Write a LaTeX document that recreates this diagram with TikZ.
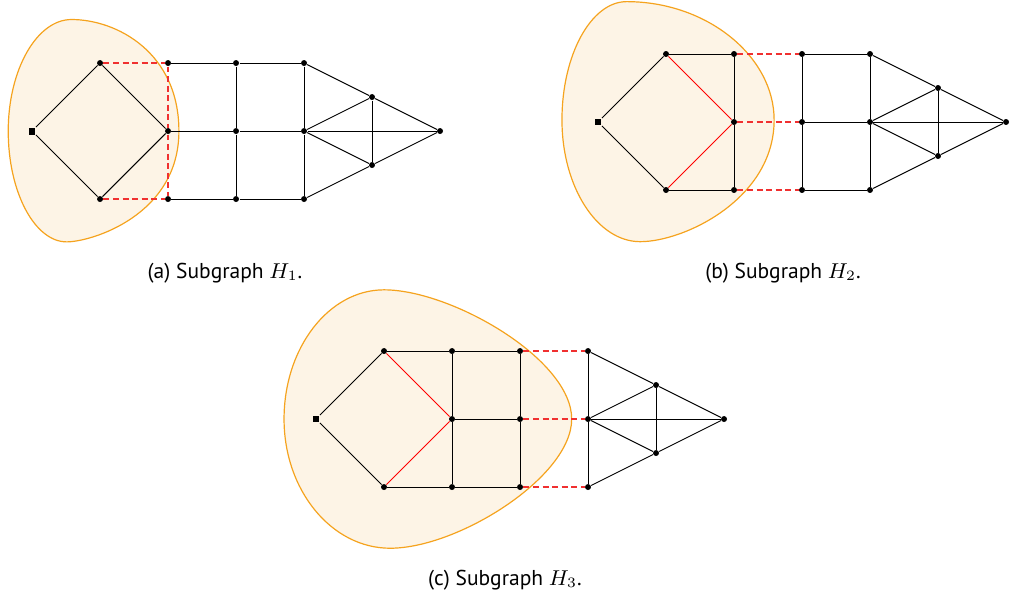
\documentclass[tikz,border=0pt]{standalone}
\usepackage{fontspec}
\setmainfont{PT Sans}
\usetikzlibrary{positioning}

\definecolor{regionline}{HTML}{F5A31E}
\definecolor{regionfill}{HTML}{FDF4E6}
\definecolor{cutred}{HTML}{F03030}

\tikzset{
  vtx/.style={circle, fill=black, inner sep=0pt, minimum size=2.5pt},
  root/.style={rectangle, fill=black, inner sep=0pt, minimum size=2.9pt},
  edge/.style={black},
  cut/.style={cutred, line width=0.5pt, dash pattern=on 2.5pt off 1.5pt},
  hot/.style={red},
  region/.style={draw=regionline, line width=0.5pt, fill=regionfill},
  caption/.style={font=\small, anchor=base}
}

% vertices of the graph, s at the origin
\newcommand{\graphnodes}{
  \node[root] (s) at (0,0) {};
  \node[vtx] (u) at (1,1) {};
  \node[vtx] (w) at (1,-1) {};
  \node[vtx] (p1) at (2,1) {};
  \node[vtx] (c) at (2,0) {};
  \node[vtx] (p3) at (2,-1) {};
  \node[vtx] (q1) at (3,1) {};
  \node[vtx] (q2) at (3,0) {};
  \node[vtx] (q3) at (3,-1) {};
  \node[vtx] (r1) at (4,1) {};
  \node[vtx] (r2) at (4,0) {};
  \node[vtx] (r3) at (4,-1) {};
  \node[vtx] (t1) at (5,0.5) {};
  \node[vtx] (t2) at (5,-0.5) {};
  \node[vtx] (z) at (6,0) {};
}

% edges that are black in every subgraph
\newcommand{\fixededges}{
  \foreach \a/\b in {s/u, s/w, q1/q2, q2/q3, r1/r2, r2/r3, r1/t1, r2/t1,
                     r2/t2, r3/t2, t1/t2, t1/z, t2/z, r2/z}
    \draw[edge] (\a) -- (\b);
}

\begin{document}
\begin{tikzpicture}
\useasboundingbox (0,0) rectangle (14.882,8.765);

% (a) subgraph H_1
\begin{scope}[shift={(0.471,6.838)}, name prefix=a-]
  \draw[region] (-0.35,0) .. controls (-0.35,0.9) and (0.07,1.64) .. (0.58,1.64)
    .. controls (1.25,1.64) and (2.16,1.15) .. (2.16,0)
    .. controls (2.16,-1.24) and (0.87,-1.63) .. (0.51,-1.63)
    .. controls (0.04,-1.63) and (-0.35,-0.9) .. cycle;
  \graphnodes
  \fixededges
  \foreach \a/\b in {u/c, w/c, c/q2, p1/q1, p3/q3, q1/r1, q2/r2, q3/r3}
    \draw[edge] (\a) -- (\b);
  \foreach \a/\b in {u/p1, w/p3, p1/c, c/p3}
    \draw[cut] (\a) -- (\b);
\end{scope}
\node[caption] (capa) at (3.309,4.676) {(a) Subgraph $H_1$.};

% (b) subgraph H_2
\begin{scope}[shift={(8.794,6.971)}, name prefix=b-]
  \draw[region] (-0.53,0.03) .. controls (-0.53,0.99) and (-0.10,1.77) .. (0.42,1.77)
    .. controls (1.61,1.77) and (2.59,0.96) .. (2.59,0.03)
    .. controls (2.59,-1.13) and (1.27,-1.76) .. (0.62,-1.76)
    .. controls (-0.01,-1.76) and (-0.53,-0.96) .. cycle;
  \graphnodes
  \fixededges
  \foreach \a/\b in {u/p1, w/p3, p1/c, c/p3, q1/r1, q2/r2, q3/r3}
    \draw[edge] (\a) -- (\b);
  \foreach \a/\b in {u/c, w/c}
    \draw[hot] (\a) -- (\b);
  \foreach \a/\b in {p1/q1, c/q2, p3/q3}
    \draw[cut] (\a) -- (\b);
\end{scope}
\node[caption] (capb) at (11.515,4.676) {(b) Subgraph $H_2$.};

% (c) subgraph H_3
\begin{scope}[shift={(4.647,2.603)}, name prefix=c-]
  \draw[region] (-0.47,0) .. controls (-0.47,1.05) and (0.19,1.9) .. (1.0,1.9)
    .. controls (1.99,1.9) and (3.76,0.88) .. (3.76,0)
    .. controls (3.76,-0.85) and (2.09,-1.9) .. (1.09,-1.9)
    .. controls (0.23,-1.9) and (-0.47,-1.05) .. cycle;
  \graphnodes
  \fixededges
  \foreach \a/\b in {u/p1, w/p3, p1/c, c/p3, p1/q1, c/q2, p3/q3}
    \draw[edge] (\a) -- (\b);
  \foreach \a/\b in {u/c, w/c}
    \draw[hot] (\a) -- (\b);
  \foreach \a/\b in {q1/r1, q2/r2, q3/r3}
    \draw[cut] (\a) -- (\b);
\end{scope}
\node[caption] (capc) at (7.426,0.162) {(c) Subgraph $H_3$.};

\end{tikzpicture}
\end{document}
